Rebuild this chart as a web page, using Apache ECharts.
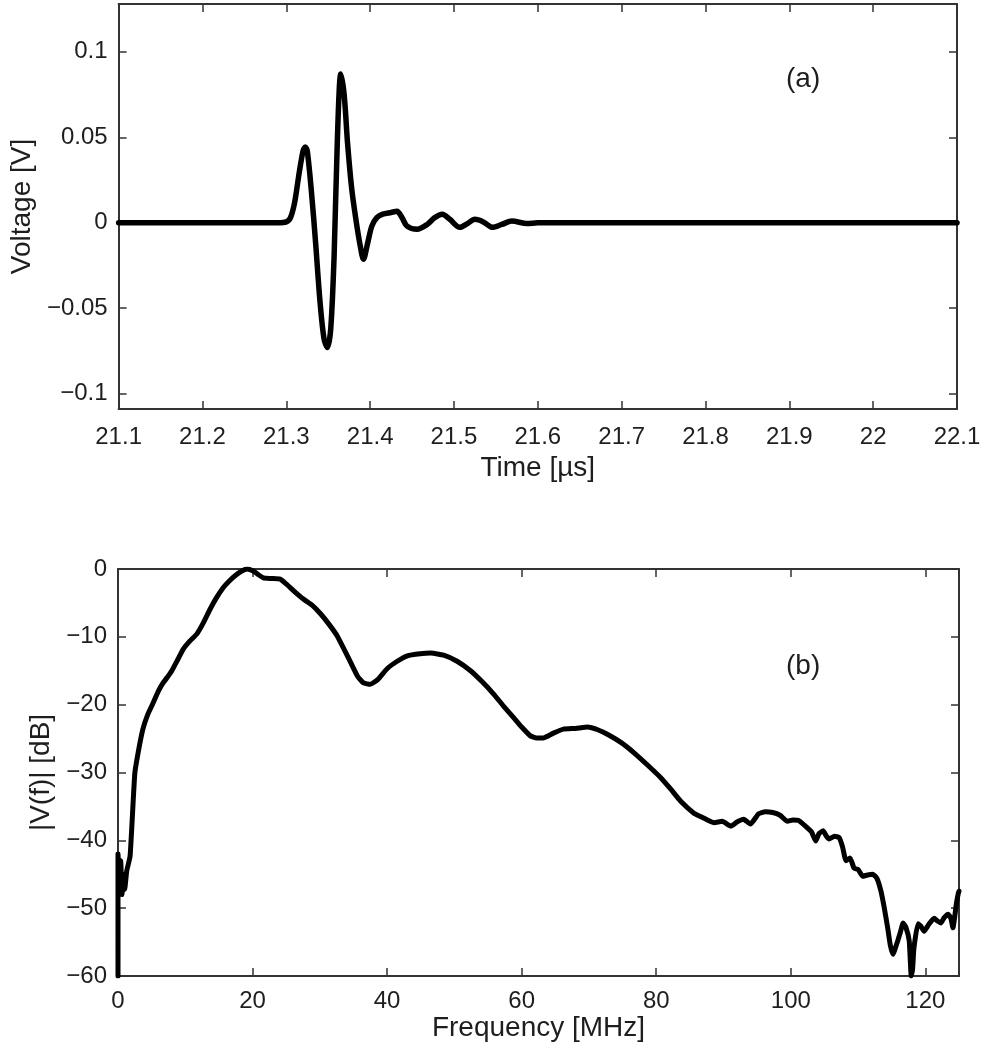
<!DOCTYPE html>
<html>
<head>
<meta charset="utf-8">
<script src="https://cdn.jsdelivr.net/npm/echarts@6/dist/echarts.min.js"></script>
<style>
html,body{margin:0;padding:0;background:#fff;}
#chart{width:986px;height:1050px;}
</style>
</head>
<body>
<div id="chart"></div>
<script>
// ---- Panel (a): time-domain pulse ----
var timeUs = [
  21.10, 21.29, 21.300, 21.305, 21.310, 21.315, 21.320, 21.3226, 21.325, 21.330,
  21.335, 21.340, 21.345, 21.349, 21.353, 21.357, 21.361, 21.365, 21.369, 21.373,
  21.378, 21.383, 21.388, 21.392, 21.397, 21.402, 21.408, 21.415, 21.425, 21.432,
  21.438, 21.444, 21.456, 21.468, 21.477, 21.486, 21.495, 21.507, 21.516, 21.525,
  21.535, 21.546, 21.557, 21.569, 21.587, 21.60, 22.10
];
var voltage = [
  0, 0, 0.0005, 0.003, 0.012, 0.028, 0.042, 0.0443, 0.042, 0.018,
  -0.012, -0.045, -0.068, -0.073, -0.062, -0.020, 0.050, 0.087, 0.075, 0.047,
  0.020, 0.002, -0.013, -0.0214, -0.012, -0.002, 0.003, 0.005, 0.006, 0.0067,
  0.003, -0.002, -0.0038, -0.001, 0.003, 0.005, 0.002, -0.0027, -0.0005, 0.002,
  0.0005, -0.0027, -0.001, 0.001, -0.0005, 0, 0
];
var voltTicks = [-0.1, -0.05, 0, 0.05, 0.1];

// ---- Panel (b): magnitude spectrum ----
var freqMHz = [
  0, 0, 0.2, 0.4, 0.6, 0.8, 1.0, 1.3, 1.8, 2.5,
  3.1, 3.7, 4.4, 5.2, 6.0, 6.7, 7.3, 8.0, 8.8, 9.7,
  10.7, 11.7, 12.7, 13.7, 14.6, 15.6, 16.5, 17.4, 18.4, 19.2,
  20.1, 20.8, 21.6, 22.8, 24.1, 25.0, 26.2, 27.5, 28.8, 30.1,
  31.4, 32.6, 34.1, 35.6, 36.5, 37.5, 38.6, 40.0, 41.5, 43.0,
  44.9, 46.5, 48.4, 50.4, 52.4, 54.1, 55.8, 57.3, 58.8, 60.0,
  61.3, 62.2, 63.2, 64.7, 66.2, 68.0, 69.8, 71.3, 72.8, 74.8,
  76.7, 78.7, 80.7, 82.2, 83.6, 85.6, 86.6, 87.6, 88.6, 89.8,
  91.1, 92.0, 93.0, 94.0, 95.2, 96.2, 97.3, 98.4, 99.5, 100.3,
  101.2, 102.5, 103.1, 103.7, 104.2, 104.8, 105.3, 105.7, 106.5, 107.2,
  107.7, 108.2, 108.8, 109.4, 110.0, 110.7, 111.4, 112.2, 112.8, 113.4,
  113.9, 114.4, 114.8, 115.2, 115.5, 115.9, 116.3, 116.7, 117.1, 117.6,
  117.9, 118.1, 118.3, 118.9, 119.3, 119.8, 120.5, 121.3, 121.8, 122.3,
  122.8, 123.4, 123.8, 124.1, 124.4, 124.6, 124.9, 125.0
];
var magDB = [
  -60, -42, -46, -43, -48, -45, -47.2, -44.5, -42.3, -30.1,
  -26.5, -23.6, -21.5, -19.8, -18.0, -16.8, -16.0, -15.0, -13.5, -11.8,
  -10.6, -9.6, -7.9, -5.9, -4.3, -2.8, -1.8, -1.0, -0.3, 0,
  -0.3, -0.8, -1.3, -1.4, -1.5, -2.2, -3.3, -4.4, -5.3, -6.6,
  -8.2, -9.9, -12.8, -15.8, -16.8, -17.0, -16.3, -14.7, -13.6, -12.8,
  -12.5, -12.4, -12.7, -13.6, -15.0, -16.6, -18.4, -20.2, -21.9, -23.3,
  -24.6, -24.9, -24.9, -24.2, -23.6, -23.5, -23.3, -23.7, -24.4, -25.6,
  -27.1, -28.9, -30.8, -32.5, -34.2, -36.0, -36.5, -37.0, -37.4, -37.2,
  -37.9, -37.3, -36.9, -37.6, -36.1, -35.8, -35.9, -36.3, -37.2, -37.0,
  -37.1, -38.2, -38.8, -40.1, -39.0, -38.6, -39.4, -39.8, -39.4, -39.6,
  -41.0, -43.0, -42.6, -44.1, -44.3, -45.3, -45.1, -45.0, -45.6, -47.5,
  -50.0, -52.9, -55.5, -56.8, -56.0, -54.8, -53.5, -52.2, -52.8, -54.8,
  -60.0, -59.0, -55.9, -52.3, -52.6, -53.4, -52.4, -51.5, -51.9, -52.2,
  -51.4, -50.9, -51.5, -52.9, -51.0, -49.4, -47.8, -47.5
];

var panelLabels = ['(a)', '(b)'];
var axisTitles = { t: 'Time [\u00b5s]', v: 'Voltage [V]', f: 'Frequency [MHz]', m: '|V(f)| [dB]' };

function zip(a, b) {
  var out = [];
  for (var i = 0; i < Math.min(a.length, b.length); i++) out.push([a[i], b[i]]);
  return out;
}
function fmtNum(v) {
  var s = String(Number(v.toFixed(3)));
  return s.charAt(0) === '-' ? '\u2212' + s.slice(1) : s;
}

var FONT = 'Liberation Sans, Arial, Helvetica, sans-serif';
var TXT = '#1e1e1e';
var LINE = '#333';
var tickSize = 24, titleSize = 28;

function axisLine() { return { show: true, onZero: false, lineStyle: { color: LINE, width: 2 } }; }
function axisTick(extra) {
  var o = { show: true, inside: true, length: 8, lineStyle: { color: LINE, width: 1.5 } };
  for (var k in extra) o[k] = extra[k];
  return o;
}
function lbl(extra) {
  var o = { color: TXT, fontSize: tickSize, fontFamily: FONT, formatter: fmtNum };
  for (var k in extra) o[k] = extra[k];
  return o;
}

var chart = echarts.init(document.getElementById('chart'), null, { renderer: 'canvas' });
chart.setOption({
  backgroundColor: '#fff',
  animation: false,
  grid: [
    { left: 118, right: 29, top: 4, height: 405, containLabel: false },
    { left: 118, right: 27, top: 569, height: 407, containLabel: false }
  ],
  xAxis: [
    { type: 'value', gridIndex: 0, min: 21.1, max: 22.1, interval: 0.1, position: 'bottom',
      axisLine: axisLine(), axisTick: axisTick(), splitLine: { show: false },
      axisLabel: lbl({ margin: 16, formatter: function (v) { return String(Number(v.toFixed(1))); } }),
      name: axisTitles.t, nameLocation: 'middle', nameGap: 45,
      nameTextStyle: { color: TXT, fontSize: titleSize, fontFamily: FONT } },
    { type: 'value', gridIndex: 0, min: 21.1, max: 22.1, interval: 0.1, position: 'top',
      axisLine: axisLine(), axisTick: axisTick(), splitLine: { show: false }, axisLabel: { show: false } },
    { type: 'value', gridIndex: 1, min: 0, max: 125, interval: 20, position: 'bottom',
      axisLine: axisLine(), axisTick: axisTick(), splitLine: { show: false },
      axisLabel: lbl({ margin: 13, showMaxLabel: false }),
      name: axisTitles.f, nameLocation: 'middle', nameGap: 38,
      nameTextStyle: { color: TXT, fontSize: titleSize, fontFamily: FONT } },
    { type: 'value', gridIndex: 1, min: 0, max: 125, interval: 20, position: 'top',
      axisLine: axisLine(), axisTick: axisTick(), splitLine: { show: false }, axisLabel: { show: false } }
  ],
  yAxis: [
    { type: 'value', gridIndex: 0, min: -0.109, max: 0.128, position: 'left',
      axisLine: axisLine(), axisTick: axisTick({ customValues: voltTicks }), splitLine: { show: false },
      axisLabel: lbl({ margin: 11, customValues: voltTicks }),
      name: axisTitles.v, nameLocation: 'middle', nameGap: 81,
      nameTextStyle: { color: TXT, fontSize: titleSize, fontFamily: FONT } },
    { type: 'value', gridIndex: 0, min: -0.109, max: 0.128, position: 'right',
      axisLine: axisLine(), axisTick: axisTick({ customValues: voltTicks }), splitLine: { show: false },
      axisLabel: { show: false } },
    { type: 'value', gridIndex: 1, min: -60, max: 0, interval: 10, position: 'left',
      axisLine: axisLine(), axisTick: axisTick(), splitLine: { show: false },
      axisLabel: lbl({ margin: 11 }),
      name: axisTitles.m, nameLocation: 'middle', nameGap: 63,
      nameTextStyle: { color: TXT, fontSize: titleSize, fontFamily: FONT } },
    { type: 'value', gridIndex: 1, min: -60, max: 0, interval: 10, position: 'right',
      axisLine: axisLine(), axisTick: axisTick(), splitLine: { show: false }, axisLabel: { show: false } }
  ],
  series: [
    { type: 'line', xAxisIndex: 0, yAxisIndex: 0, data: zip(timeUs, voltage),
      showSymbol: false, smooth: 0.3, clip: true,
      lineStyle: { color: '#000', width: 5.5, join: 'round', cap: 'round' } },
    { type: 'line', xAxisIndex: 2, yAxisIndex: 2, data: zip(freqMHz, magDB),
      showSymbol: false, smooth: 0.15, clip: true,
      lineStyle: { color: '#000', width: 5, join: 'round', cap: 'round' } }
  ],
  graphic: [
    { type: 'text', left: 786, top: 65, style: { text: panelLabels[0], fill: TXT, fontSize: 28, fontFamily: FONT } },
    { type: 'text', left: 786, top: 652, style: { text: panelLabels[1], fill: TXT, fontSize: 28, fontFamily: FONT } }
  ]
});
</script>
</body>
</html>
